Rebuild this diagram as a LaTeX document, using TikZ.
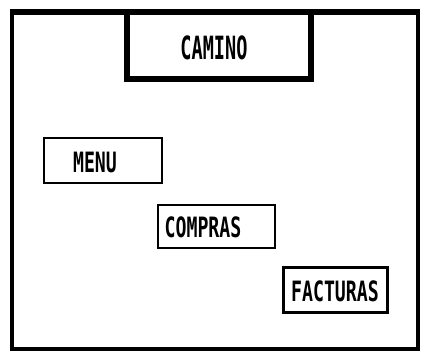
\documentclass[tikz,border=0pt]{standalone}
\usepackage{fontspec}
\newfontfamily\pixfont[FakeStretch=0.65]{DejaVu Sans Mono}
\newfontfamily\pixbigfont[FakeStretch=0.58]{DejaVu Sans Mono}
\begin{document}
\begin{tikzpicture}[x=1pt,y=-1pt,
  frame/.style={draw=black,line width=4.5pt},
  topbox/.style={draw=black,line width=6pt},
  box/.style={draw=black,line width=2pt,rectangle,inner sep=0pt},
  boxthick/.style={draw=black,line width=3pt,rectangle,inner sep=0pt},
  lbl/.style={font=\pixfont\bfseries\fontsize{28}{28}\selectfont,inner sep=0pt},
  biglbl/.style={font=\pixbigfont\bfseries\fontsize{32}{32}\selectfont,inner sep=0pt}]
\useasboundingbox (0,0) rectangle (421,355);
% outer frame
\draw[frame] (12,12) rectangle (418,349);
\draw[topbox] (10,12) -- (420,12);
% CAMINO tab
\draw[topbox] (127,12) -- (127,79) -- (311,79) -- (311,12);
\node[biglbl] (camino) at (214,48) {CAMINO};
% boxes
\node[box,minimum width=118pt,minimum height=45pt] (menubox) at (103,160.5) {};
\node[lbl] (menu) at (95,162) {MENU};
\node[box,minimum width=117pt,minimum height=43pt] (comprasbox) at (216.5,226.5) {};
\node[lbl] (compras) at (203,227) {COMPRAS};
\node[boxthick,minimum width=104pt,minimum height=45pt] (facturasbox) at (335,290.5) {};
\node[lbl] (facturas) at (335,291) {FACTURAS};
\end{tikzpicture}
\end{document}
